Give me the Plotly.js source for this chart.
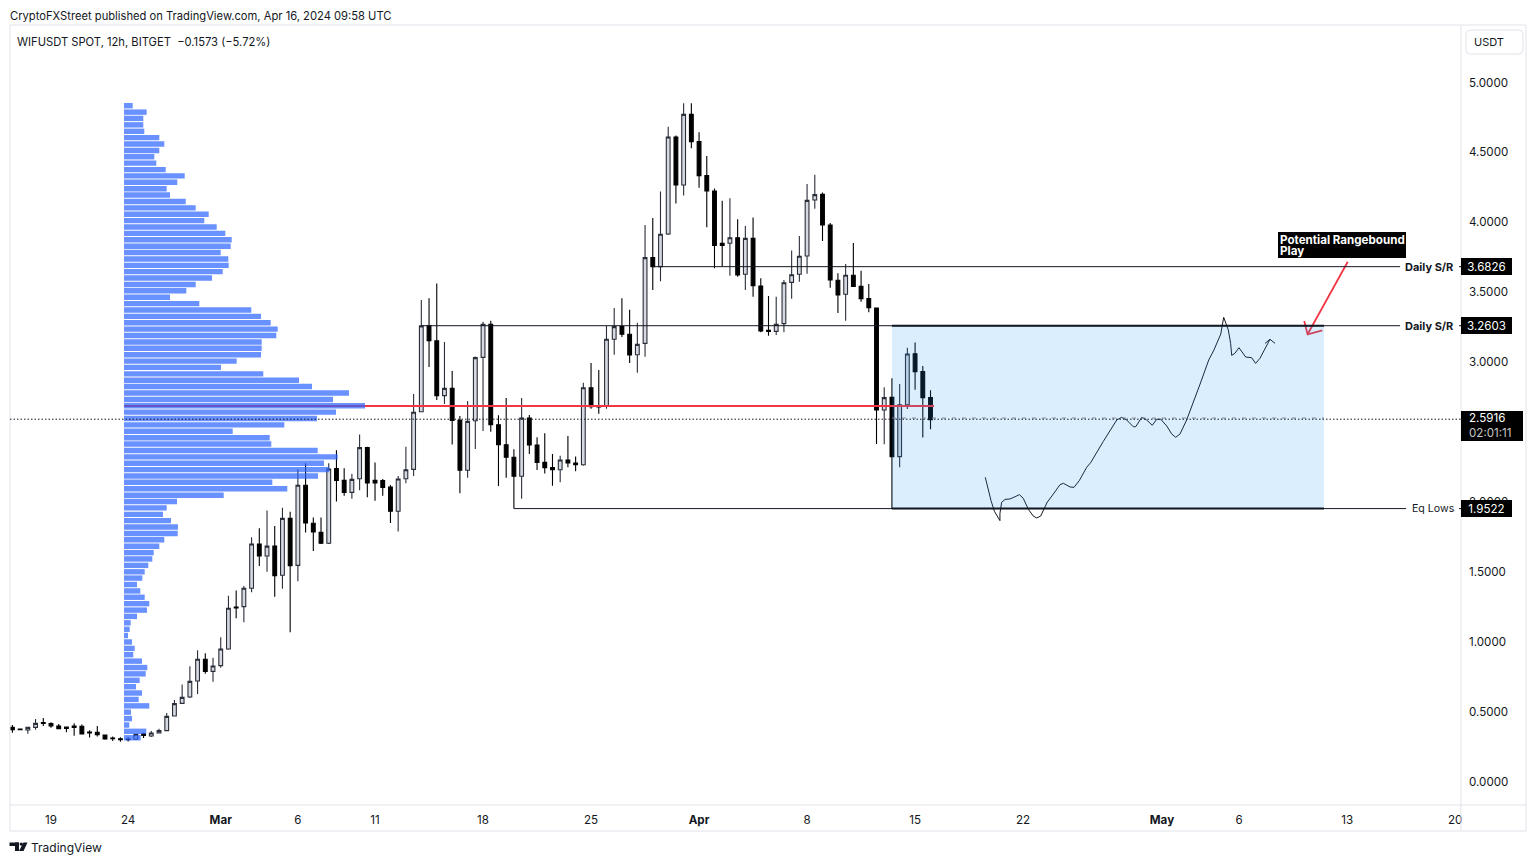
<!DOCTYPE html>
<html><head><meta charset="utf-8">
<script src="https://cdn.plot.ly/plotly-3.0.1.min.js"></script>
<style>html,body{margin:0;padding:0;background:#fff;overflow:hidden}#c{width:1536px;height:864px}</style>
</head><body><div id="c"></div>
<script>
const barTimes = ["2024-02-16 12:00","2024-02-17 00:00","2024-02-17 12:00","2024-02-18 00:00","2024-02-18 12:00","2024-02-19 00:00","2024-02-19 12:00","2024-02-20 00:00","2024-02-20 12:00","2024-02-21 00:00",
"2024-02-21 12:00","2024-02-22 00:00","2024-02-22 12:00","2024-02-23 00:00","2024-02-23 12:00","2024-02-24 00:00","2024-02-24 12:00","2024-02-25 00:00","2024-02-25 12:00","2024-02-26 00:00",
"2024-02-26 12:00","2024-02-27 00:00","2024-02-27 12:00","2024-02-28 00:00","2024-02-28 12:00","2024-02-29 00:00","2024-02-29 12:00","2024-03-01 00:00","2024-03-01 12:00","2024-03-02 00:00",
"2024-03-02 12:00","2024-03-03 00:00","2024-03-03 12:00","2024-03-04 00:00","2024-03-04 12:00","2024-03-05 00:00","2024-03-05 12:00","2024-03-06 00:00","2024-03-06 12:00","2024-03-07 00:00",
"2024-03-07 12:00","2024-03-08 00:00","2024-03-08 12:00","2024-03-09 00:00","2024-03-09 12:00","2024-03-10 00:00","2024-03-10 12:00","2024-03-11 00:00","2024-03-11 12:00","2024-03-12 00:00",
"2024-03-12 12:00","2024-03-13 00:00","2024-03-13 12:00","2024-03-14 00:00","2024-03-14 12:00","2024-03-15 00:00","2024-03-15 12:00","2024-03-16 00:00","2024-03-16 12:00","2024-03-17 00:00",
"2024-03-17 12:00","2024-03-18 00:00","2024-03-18 12:00","2024-03-19 00:00","2024-03-19 12:00","2024-03-20 00:00","2024-03-20 12:00","2024-03-21 00:00","2024-03-21 12:00","2024-03-22 00:00",
"2024-03-22 12:00","2024-03-23 00:00","2024-03-23 12:00","2024-03-24 00:00","2024-03-24 12:00","2024-03-25 00:00","2024-03-25 12:00","2024-03-26 00:00","2024-03-26 12:00","2024-03-27 00:00",
"2024-03-27 12:00","2024-03-28 00:00","2024-03-28 12:00","2024-03-29 00:00","2024-03-29 12:00","2024-03-30 00:00","2024-03-30 12:00","2024-03-31 00:00","2024-03-31 12:00","2024-04-01 00:00",
"2024-04-01 12:00","2024-04-02 00:00","2024-04-02 12:00","2024-04-03 00:00","2024-04-03 12:00","2024-04-04 00:00","2024-04-04 12:00","2024-04-05 00:00","2024-04-05 12:00","2024-04-06 00:00",
"2024-04-06 12:00","2024-04-07 00:00","2024-04-07 12:00","2024-04-08 00:00","2024-04-08 12:00","2024-04-09 00:00","2024-04-09 12:00","2024-04-10 00:00","2024-04-10 12:00","2024-04-11 00:00",
"2024-04-11 12:00","2024-04-12 00:00","2024-04-12 12:00","2024-04-13 00:00","2024-04-13 12:00","2024-04-14 00:00","2024-04-14 12:00","2024-04-15 00:00","2024-04-15 12:00","2024-04-16 00:00"];
const opens = [.387,.375,.368,.387,.421,.414,.397,.390,.397,.395,
.354,.352,.333,.311,.306,.304,.302,.342,.325,.347,
.364,.469,.559,.604,.719,.874,.788,.829,.948,1.248,
1.251,1.382,1.699,1.613,1.684,1.475,1.882,1.546,2.119,1.847,
1.782,1.704,2.238,2.154,2.068,2.166,2.388,2.154,2.152,2.107,
1.933,2.166,2.233,2.645,3.261,3.153,2.760,2.812,2.583,2.226,
2.581,3.034,3.270,2.552,2.409,2.319,2.183,2.600,2.407,2.283,
2.245,2.230,2.300,2.278,2.266,2.817,2.686,2.684,3.163,3.254,
3.199,3.053,3.134,3.747,3.683,3.916,4.610,4.267,4.772,4.577,
4.334,4.224,3.850,3.850,3.890,3.628,3.885,3.544,3.227,3.220,
3.275,3.570,3.628,3.759,4.160,4.200,3.981,3.585,3.485,3.621,
3.542,3.454,3.387,2.657,2.748,2.324,2.695,3.060,2.932,2.746];
const closes = [.371,.371,.387,.416,.416,.397,.378,.380,.387,.340,
.347,.335,.304,.306,.299,.299,.337,.330,.347,.364,
.466,.557,.602,.716,.874,.788,.826,.948,1.239,1.241,
1.382,1.699,1.613,1.684,1.472,1.882,1.544,2.119,1.849,1.785,
1.704,2.235,2.154,2.068,2.161,2.388,2.135,2.135,2.104,1.933,
2.164,2.230,2.641,3.259,3.153,2.760,2.812,2.583,2.226,2.576,
3.032,3.270,2.552,2.409,2.319,2.183,2.600,2.407,2.283,2.245,
2.230,2.300,2.278,2.266,2.817,2.681,2.679,3.163,3.254,3.199,
3.051,3.127,3.747,3.683,3.914,4.610,4.267,4.772,4.577,4.334,
4.224,3.835,3.835,3.890,3.623,3.885,3.547,3.222,3.220,3.270,
3.568,3.625,3.757,4.157,4.198,3.981,3.587,3.480,3.621,3.542,
3.454,3.389,2.657,2.746,2.324,2.695,3.058,2.932,2.746,2.588];
const highs = [.404,.378,.392,.447,.454,.423,.411,.392,.416,.407,
.366,.397,.337,.321,.316,.316,.342,.349,.361,.378,
.490,.583,.693,.824,.938,.917,.886,1.031,1.329,1.367,
1.399,1.747,1.811,1.939,1.827,1.959,1.930,2.233,2.276,1.889,
1.889,2.276,2.369,2.240,2.202,2.483,2.395,2.281,2.164,2.121,
2.185,2.395,2.772,3.444,3.456,3.563,3.144,2.936,2.614,2.721,
3.040,3.289,3.296,2.619,2.743,2.376,2.743,2.621,2.462,2.491,
2.343,2.331,2.471,2.324,2.853,2.993,2.944,3.259,3.387,3.456,
3.375,3.281,3.981,4.030,4.221,4.684,4.620,4.851,4.851,4.644,
4.474,4.241,4.155,4.172,4.021,3.974,4.035,3.599,3.473,3.468,
3.587,3.799,3.902,4.274,4.340,4.214,3.995,3.635,3.702,3.852,
3.654,3.559,3.390,2.820,2.884,2.844,3.103,3.141,2.972,2.798];
const lows = [.349,.366,.342,.371,.397,.385,.376,.352,.328,.337,
.314,.321,.299,.290,.285,.287,.299,.311,.318,.345,
.361,.466,.557,.597,.626,.771,.714,.814,.943,1.167,
1.139,1.353,1.541,1.501,1.322,1.379,1.067,1.432,1.782,1.649,
1.699,1.699,2.002,2.044,2.023,2.083,2.033,2.009,2.044,1.849,
1.789,2.133,2.185,2.645,2.965,2.729,2.700,2.411,2.061,2.173,
2.378,2.507,2.502,2.114,2.173,1.952,2.023,2.343,2.228,2.204,
2.116,2.140,2.247,2.219,2.259,2.667,2.631,2.667,3.053,3.180,
2.993,2.924,3.039,3.516,3.578,3.910,4.135,4.191,4.529,4.248,
3.964,3.671,3.683,3.618,3.611,3.516,3.468,3.213,3.189,3.194,
3.213,3.454,3.575,3.632,4.097,3.866,3.532,3.351,3.296,3.537,
3.432,3.356,2.414,2.412,1.952,2.247,2.664,2.803,2.461,2.519];

const profilePrices = [4.834,4.788,4.743,4.697,4.651,4.606,4.560,4.514,4.469,4.423,
4.377,4.332,4.286,4.240,4.195,4.149,4.103,4.058,4.012,3.966,
3.921,3.875,3.829,3.784,3.738,3.692,3.647,3.601,3.555,3.510,
3.464,3.418,3.373,3.327,3.281,3.236,3.190,3.144,3.099,3.053,
3.007,2.962,2.916,2.870,2.825,2.779,2.733,2.688,2.642,2.596,
2.551,2.505,2.459,2.414,2.368,2.322,2.277,2.231,2.185,2.140,
2.094,2.048,2.003,1.957,1.911,1.866,1.820,1.774,1.729,1.683,
1.637,1.592,1.546,1.500,1.455,1.409,1.363,1.318,1.272,1.226,
1.181,1.135,1.089,1.044,.998,.952,.907,.861,.815,.770,
.724,.678,.633,.587,.541,.496,.450,.404,.359,.313];
const profileVolume = [8.7,22.7,19.3,19.3,20.3,35.3,40.3,35.3,30.3,32.3,
41.7,60.7,53.3,42.7,46,61.7,71.7,84.7,80.3,92.7,
101.3,107.7,106.7,96.7,104.3,104.7,98.7,88,71.7,62.3,
46,75.3,127.3,137,146.7,153.7,152.3,137.7,137.7,137,
112.7,97,139.3,175,188,225,209,241,212,193,
160.3,108.7,145.7,147.3,193.7,213.7,200,205.3,194,148.3,
163.3,99.7,53,42.7,39,47,54,53.7,40.3,35.3,
29.7,28.3,24.3,20.7,18.3,13,16.3,20.7,25.3,23,
13,6.7,5.7,4,8,10.7,9.3,18,23.3,21.7,
15.7,12,18,14.7,25.3,7,8,5.3,22.3,16.7];

const forecastDays = [60.55,60.75,60.92,61.14,61.50,61.50,61.61,61.83,62.15,62.48,62.76,63.01,63.34,63.66,63.88,64.14,64.57,64.96,65.39,65.61,66.04,66.30,66.64,67.12,67.38,68.20,68.63,69.07,69.39,69.71,70.14,70.30,70.69,71.01,71.37,71.66,71.92,72.31,72.63,72.89,73.17,73.60,74.47,75.03,75.37,75.81,76.00,76.30,76.45,76.52,76.73,76.99,77.43,77.81,78.07,78.35,79.00];
const forecastPrices = [2.176,2.085,2.009,1.933,1.866,1.918,1.997,2.018,2.021,2.037,2.052,2.026,1.947,1.899,1.885,1.899,1.999,2.056,2.123,2.133,2.107,2.104,2.152,2.247,2.281,2.433,2.510,2.586,2.605,2.586,2.538,2.538,2.605,2.586,2.548,2.591,2.591,2.543,2.486,2.462,2.486,2.586,2.843,3.015,3.087,3.201,3.320,3.230,3.134,3.048,3.063,3.103,3.036,3.032,2.991,3.027,3.163];
const forecastHeadDays = [78.68,79.00,79.33];
const forecastHeadPrices = [3.134,3.163,3.134];

const arrowDays = [84.04,81.44];
const arrowPrices = [3.718,3.199];
const arrowHeadDays = [81.22,81.44,82.39];
const arrowHeadPrices = [3.294,3.199,3.227];

const xTickVals = ["2024-02-19","2024-02-24","2024-03-01","2024-03-06","2024-03-11","2024-03-18","2024-03-25","2024-04-01","2024-04-08","2024-04-15","2024-04-22","2024-05-01","2024-05-06","2024-05-13","2024-05-20"];
const xTickText = ["19","24","<b>Mar</b>","6","11","18","25","<b>Apr</b>","8","15","22","<b>May</b>","6","13","20"];
const yTickVals = [0,0.5,1,1.5,2,2.5,3,3.5,4,4.5,5];
const yTickText = ["0.0000","0.5000","1.0000","1.5000","2.0000","2.5000","3.0000","3.5000","4.0000","4.5000","5.0000"];

const upperSR = 3.6826, lowerSR = 3.2603, eqLows = 1.9522, lastPrice = 2.5916, pocPrice = 2.686;
const boxMid = 2.600;

const FONT = '"Inter","Liberation Sans",sans-serif';
const INK = '#131722';
const X0 = 10, X1 = 1461, Y0 = 25, Y1 = 805;
const px = x => (x - X0) / (X1 - X0);
const py = y => (Y1 - y) / (Y1 - Y0);
const dayDate = d => new Date(Date.UTC(2024,1,19) + d*864e5).toISOString().slice(0,19).replace('T',' ');
const xMin = "2024-02-16 08:14", xMax = "2024-05-20 09:07";

const traces = [
 {type:'candlestick', x:barTimes, open:opens, high:highs, low:lows, close:closes, whiskerwidth:0,
  increasing:{line:{color:'#2a2e39',width:1.1}, fillcolor:'#d6d9e0'},
  decreasing:{line:{color:'#000000',width:1.1}, fillcolor:'#000000'}, showlegend:false, hoverinfo:'skip'},
 {type:'scatter', mode:'lines', x:[dayDate(4.73),dayDate(57.23)], y:[pocPrice,pocPrice], line:{color:'#f23645',width:2}, showlegend:false, hoverinfo:'skip'},
 {type:'scatter', mode:'lines', x:forecastDays.map(dayDate), y:forecastPrices, line:{color:INK,width:1}, showlegend:false, hoverinfo:'skip'},
 {type:'scatter', mode:'lines', x:forecastHeadDays.map(dayDate), y:forecastHeadPrices, line:{color:INK,width:1}, showlegend:false, hoverinfo:'skip'},
 {type:'scatter', mode:'lines', x:arrowDays.map(dayDate), y:arrowPrices, line:{color:'#f23645',width:1.8}, showlegend:false, hoverinfo:'skip'},
 {type:'scatter', mode:'lines', x:arrowHeadDays.map(dayDate), y:arrowHeadPrices, line:{color:'#f23645',width:1.8}, showlegend:false, hoverinfo:'skip'},
 {type:'bar', orientation:'h', x:profileVolume, y:profilePrices, xaxis:'x2', yaxis:'y', base:0,
  marker:{color:'rgba(41,98,255,0.7)', line:{width:0}}, showlegend:false, hoverinfo:'skip'}
];

const frame = 'rgba(224,227,235,1)';
const hline = (x0,x1,y,color,width,dash) => ({type:'line', layer:'above', xref:'x', yref:'y', x0, x1, y0:y, y1:y, line:{color,width,dash:dash||'solid'}});
const chrome = (x0,y0,x1,y1) => ({type:'line', layer:'above', xref:'paper', yref:'paper', x0:px(x0), x1:px(x1), y0:py(y0), y1:py(y1), line:{color:frame,width:1}});
const solidRect = (x0,y0,x1,y1,fill) => ({type:'rect', layer:'above', xref:'paper', yref:'paper', x0:px(x0), x1:px(x1), y0:py(y0), y1:py(y1), fillcolor:fill, line:{width:0}});
const roundRect = (x0,y0,x1,y1,r,stroke) => {
  const X=v=>px(v), Y=v=>py(v);
  return {type:'path', layer:'above', xref:'paper', yref:'paper',
   path:`M ${X(x0+r)} ${Y(y0)} L ${X(x1-r)} ${Y(y0)} Q ${X(x1)} ${Y(y0)} ${X(x1)} ${Y(y0+r)} L ${X(x1)} ${Y(y1-r)} Q ${X(x1)} ${Y(y1)} ${X(x1-r)} ${Y(y1)} L ${X(x0+r)} ${Y(y1)} Q ${X(x0)} ${Y(y1)} ${X(x0)} ${Y(y1-r)} L ${X(x0)} ${Y(y0+r)} Q ${X(x0)} ${Y(y0)} ${X(x0+r)} ${Y(y0)} Z`,
   line:{color:stroke,width:1}, fillcolor:'rgba(255,255,255,1)'};
};
const boxL = barTimes[114], boxR = "2024-05-11 12:00";
const lineEnd = "2024-05-16 10:20", eqEnd = "2024-05-16 19:40", stub = "2024-05-20 06:00";

const shapes = [
 chrome(10,25,1526,25), chrome(10,805,1526,805), chrome(10,831,1526,831),
 chrome(10,25,10,831), chrome(1461,25,1461,831), chrome(1526,25,1526,831),
 {type:'rect', layer:'above', xref:'x', yref:'y', x0:boxL, x1:boxR, y0:eqLows, y1:lowerSR, fillcolor:'rgba(33,150,243,0.165)', line:{width:0}},
 hline(boxL,boxR,boxMid,'#868993',1,'4px,6px'),
 hline(xMin,xMax,lastPrice,'#131722',1,'1.5px,2px'),
 hline(barTimes[83],lineEnd,upperSR,INK,1),
 hline(stub,xMax,upperSR,INK,1),
 hline(barTimes[53],lineEnd,lowerSR,INK,1),
 hline(stub,xMax,lowerSR,INK,1),
 hline(barTimes[65],eqEnd,eqLows,INK,1),
 hline(stub,xMax,eqLows,INK,1),
 hline(boxL,boxR,lowerSR,INK,2),
 hline(boxL,boxR,eqLows,INK,2),
 roundRect(1466,30,1523,54,4,frame),
 solidRect(1461,411,1523,441,'#000000'),
 solidRect(1278,232,1406,258,'#000000'),
 // TradingView logo
 solidRect(9.5,842.5,19,846,INK), solidRect(15,842.5,19,851,INK),
 {type:'circle', layer:'above', xref:'paper', yref:'paper', x0:px(19.6), x1:px(23), y0:py(842.4), y1:py(845.8), fillcolor:INK, line:{width:0}},
 {type:'path', layer:'above', xref:'paper', yref:'paper', path:`M ${px(23.5)} ${py(842.5)} L ${px(27.5)} ${py(842.5)} L ${px(23.5)} ${py(851)} L ${px(19)} ${py(851)} Z`, fillcolor:INK, line:{width:0}}
];

const txt = (text,x,y,o={}) => Object.assign({text, xref:'paper', yref:'paper', x:px(x), y:py(y), xanchor:'left', yanchor:'middle', showarrow:false,
   borderwidth:0, borderpad:0, font:{family:FONT,size:12,color:INK}}, o);
const tag = (value,label) => ({text:label, xref:'paper', yref:'y', x:1, y:value, xanchor:'left', yanchor:'middle', showarrow:false,
   bgcolor:'#000000', width:51, height:17, borderwidth:0, borderpad:0, align:'center', font:{family:FONT,size:11.6,color:'#ffffff'}});
const side = (value,label,bold,x,size) => ({text:bold?`<b>${label}</b>`:label, xref:'paper', yref:'y', x:px(x), y:value, xanchor:'left', yanchor:'middle', showarrow:false,
   borderwidth:0, borderpad:0, font:{family:FONT,size:size,color:INK}});

const annotations = [
 txt('CryptoFXStreet published on TradingView.com, Apr 16, 2024 09:58 UTC',9.7,16,{font:{family:FONT,size:11.2,color:INK}}),
 txt('WIFUSDT SPOT, 12h, BITGET  −0.1573 (−5.72%)',17,42,{font:{family:FONT,size:11.2,color:INK}}),
 txt('USDT',1474,41.5,{font:{family:FONT,size:11,color:INK}}),
 txt('TradingView',31,847.5,{font:{family:FONT,size:12,color:INK}}),
 txt('<b>Potential Rangebound</b>',1280,240,{font:{family:FONT,size:11.6,color:'#ffffff'}}),
 txt('<b>Play</b>',1280,251.5,{font:{family:FONT,size:11.6,color:'#ffffff'}}),
 side(upperSR,'Daily S/R',true,1405,11), side(lowerSR,'Daily S/R',true,1405,11), side(eqLows,'Eq Lows',false,1412,10.6),
 tag(upperSR,'3.6826'), tag(lowerSR,'3.2603'), tag(eqLows,'1.9522'),
 txt('2.5916<br><span style="color:#c8c8c8">02:01:11</span>',1469,426,{align:'left',font:{family:FONT,size:11.6,color:'#ffffff'}})
];

const layout = {
 width:1536, height:864, paper_bgcolor:'#fff', plot_bgcolor:'#fff',
 margin:{l:X0, r:1536-X1, t:Y0, b:864-Y1, pad:0}, showlegend:false, bargap:0.14, dragmode:false,
 font:{family:FONT,size:12,color:INK},
 xaxis:{type:'date', range:[xMin,xMax], rangeslider:{visible:false}, tickmode:'array', tickvals:xTickVals, ticktext:xTickText,
   showgrid:false, zeroline:false, showline:false, ticks:'', tickangle:0, tickfont:{family:FONT,size:11.6,color:INK}, ticklabelstandoff:6},
 xaxis2:{type:'linear', overlaying:'x', anchor:'y', range:[-114,1337], visible:false, showgrid:false, zeroline:false, fixedrange:true},
 yaxis:{side:'right', range:[-0.1681,5.4113], tickmode:'array', tickvals:yTickVals, ticktext:yTickText,
   showgrid:false, zeroline:false, showline:false, ticks:'', tickfont:{family:FONT,size:11.6,color:INK}, ticklabelstandoff:7},
 shapes, annotations
};
Plotly.newPlot('c', traces, layout, {displayModeBar:false, staticPlot:true});
</script></body></html>
